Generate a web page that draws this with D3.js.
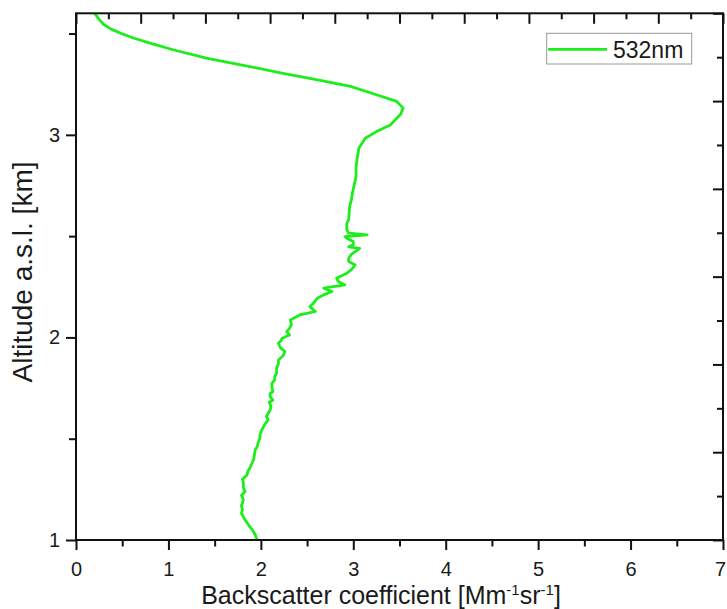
<!DOCTYPE html>
<html>
<head>
<meta charset="utf-8">
<script src="https://cdn.jsdelivr.net/npm/d3@7"></script>
<style>
  html, body { margin: 0; padding: 0; background: #fff; }
  svg { display: block; }
  text { font-family: "Liberation Sans", Arial, sans-serif; fill: #1a1a1a; }
</style>
</head>
<body>
<svg id="chart" width="727" height="609"></svg>
<script>
// ---- data (altitude km, backscatter Mm-1 sr-1) ----
const altitude = [
  1.000, 1.025, 1.049, 1.066, 1.099, 1.115, 1.132, 1.150, 1.170, 1.181,
  1.200, 1.220, 1.239, 1.260, 1.288, 1.300, 1.321, 1.340, 1.354, 1.375,
  1.395, 1.420, 1.446, 1.461, 1.480, 1.502, 1.520, 1.543, 1.560, 1.576,
  1.593, 1.610, 1.642, 1.660, 1.680, 1.691, 1.708, 1.724, 1.732, 1.750,
  1.765, 1.774, 1.790, 1.807, 1.823, 1.848, 1.870, 1.889, 1.910, 1.930,
  1.950, 1.971, 1.985, 1.996, 2.012, 2.029, 2.045, 2.062, 2.086, 2.111,
  2.128, 2.152, 2.170, 2.193, 2.210, 2.227, 2.243, 2.259, 2.275, 2.292,
  2.317, 2.335, 2.358, 2.375, 2.391, 2.410, 2.440, 2.447, 2.457, 2.474,
  2.490, 2.498, 2.506, 2.515, 2.531, 2.564, 2.580, 2.646, 2.680, 2.712,
  2.794, 2.840, 2.877, 2.934, 2.983, 3.016, 3.049, 3.100, 3.132, 3.165,
  3.198, 3.239, 3.272, 3.304, 3.337, 3.379, 3.420, 3.450, 3.478, 3.500,
  3.522, 3.545, 3.570, 3.601
];
const backscatter532 = [
  1.96, 1.94, 1.91, 1.88, 1.83, 1.81, 1.79, 1.80, 1.79, 1.80,
  1.81, 1.79, 1.83, 1.81, 1.81, 1.80, 1.85, 1.86, 1.88, 1.90,
  1.92, 1.93, 1.94, 1.96, 1.97, 1.99, 1.99, 2.01, 2.03, 2.05,
  2.08, 2.06, 2.10, 2.11, 2.09, 2.13, 2.10, 2.10, 2.13, 2.12,
  2.12, 2.12, 2.15, 2.15, 2.17, 2.17, 2.19, 2.19, 2.24, 2.26,
  2.21, 2.19, 2.22, 2.23, 2.31, 2.28, 2.31, 2.33, 2.32, 2.42,
  2.59, 2.53, 2.57, 2.61, 2.68, 2.77, 2.68, 2.91, 2.84, 2.82,
  2.93, 2.98, 3.02, 2.95, 2.95, 2.98, 3.07, 2.95, 3.00, 3.00,
  2.93, 2.91, 3.15, 2.95, 2.93, 2.93, 2.95, 2.96, 2.98, 2.99,
  3.03, 3.03, 3.04, 3.06, 3.13, 3.25, 3.40, 3.51, 3.54, 3.47,
  3.25, 2.97, 2.60, 2.24, 1.88, 1.41, 1.05, 0.82, 0.62, 0.49,
  0.38, 0.30, 0.25, 0.20
];
const seriesName = "532nm";
const xTicks = [0, 1, 2, 3, 4, 5, 6, 7];
const yTicks = [1, 2, 3];
const xTitle = "Backscatter coefficient [Mm";
const yTitle = "Altitude a.s.l. [km]";

// ---- layout ----
const svg = d3.select("#chart");
const L = 76, R = 723, T = 13.3, B = 540;
const x = d3.scaleLinear().domain([0, 7]).range([L, R]);
const y = d3.scaleLinear().domain([1, 3.6]).range([B, T]);
// mirror axes (opposite sides) use their own unlabeled tick spacing
const xTop = d3.scaleLinear().domain([0, 10]).range([L, R]);
const yRight = d3.scaleLinear().domain([0, 6]).range([B, T]);

const axisColor = "#111";
const green = "#1cee1c";

svg.append("clipPath").attr("id", "clip")
  .append("rect").attr("x", L).attr("y", T).attr("width", R - L).attr("height", B - T);

// data line
const pts = altitude.map((a, i) => ({ a, v: backscatter532[i] }));
svg.append("path")
  .datum(pts)
  .attr("clip-path", "url(#clip)")
  .attr("fill", "none")
  .attr("stroke", green)
  .attr("stroke-width", 2.8)
  .attr("stroke-linejoin", "round")
  .attr("d", d3.line().x(d => x(d.v)).y(d => y(d.a)));

function styleAxis(g) {
  g.select(".domain").remove();
  g.selectAll("line").attr("stroke", axisColor).attr("stroke-width", 2);
  g.selectAll("text").attr("fill", "#1a1a1a").style("font-family", '"Liberation Sans", Arial, sans-serif');
}

// bottom axis (major + minor, outward)
const gB = svg.append("g").attr("transform", `translate(0,${B})`)
  .call(d3.axisBottom(x).tickValues(xTicks).tickSize(10).tickPadding(12).tickFormat(d3.format("d")));
styleAxis(gB);
gB.selectAll("text").style("font-size", "20px");
gB.selectAll(".tick").filter(d => d === 7).select("text").attr("dx", -3);
svg.append("g").attr("transform", `translate(0,${B})`)
  .call(d3.axisBottom(x).tickValues(d3.range(0.5, 7, 1)).tickSize(6.5).tickFormat(""))
  .call(styleAxis);

// left axis
const gL = svg.append("g").attr("transform", `translate(${L},0)`)
  .call(d3.axisLeft(y).tickValues(yTicks).tickSize(10).tickPadding(6).tickFormat(d3.format("d")));
styleAxis(gL);
gL.selectAll("text").style("font-size", "20px");
svg.append("g").attr("transform", `translate(${L},0)`)
  .call(d3.axisLeft(y).tickValues([1.5, 2.5, 3.5]).tickSize(7).tickFormat(""))
  .call(styleAxis);

// top axis (inward)
svg.append("g").attr("transform", `translate(0,${T})`)
  .call(d3.axisBottom(xTop).tickValues(d3.range(0, 11, 1)).tickSize(10.5).tickFormat(""))
  .call(styleAxis);
svg.append("g").attr("transform", `translate(0,${T})`)
  .call(d3.axisBottom(xTop).tickValues(d3.range(0.5, 10, 1)).tickSize(6).tickFormat(""))
  .call(styleAxis);

// right axis (inward)
svg.append("g").attr("transform", `translate(${R},0)`)
  .call(d3.axisLeft(yRight).tickValues(d3.range(0, 7, 1)).tickSize(10).tickFormat(""))
  .call(styleAxis);
svg.append("g").attr("transform", `translate(${R},0)`)
  .call(d3.axisLeft(yRight).tickValues(d3.range(0.5, 6, 1)).tickSize(6).tickFormat(""))
  .call(styleAxis);

// frame
svg.append("rect").attr("x", L).attr("y", T).attr("width", R - L).attr("height", B - T)
  .attr("fill", "none").attr("stroke", axisColor).attr("stroke-width", 2);

// axis titles
const xt = svg.append("text").attr("x", 381).attr("y", 604)
  .attr("text-anchor", "middle").style("font-size", "25px");
xt.append("tspan").text(xTitle);
xt.append("tspan").attr("dy", -9).style("font-size", "15px").text("-1");
xt.append("tspan").attr("dy", 9).text("sr");
xt.append("tspan").attr("dy", -9).style("font-size", "15px").text("-1");
xt.append("tspan").attr("dy", 9).text("]");

svg.append("text")
  .attr("transform", "translate(32,272) rotate(-90)")
  .attr("text-anchor", "middle").style("font-size", "28px")
  .text(yTitle);

// legend
const lg = svg.append("g");
lg.append("rect").attr("x", 546.7).attr("y", 33.3).attr("width", 145).attr("height", 30.7)
  .attr("fill", "#fff").attr("stroke", "#9a9a9a").attr("stroke-width", 1);
lg.append("line").attr("x1", 548).attr("x2", 607).attr("y1", 49.3).attr("y2", 49.3)
  .attr("stroke", green).attr("stroke-width", 2.8);
lg.append("text").attr("x", 613).attr("y", 57.5).style("font-size", "23px").text(seriesName);
</script>
</body>
</html>
